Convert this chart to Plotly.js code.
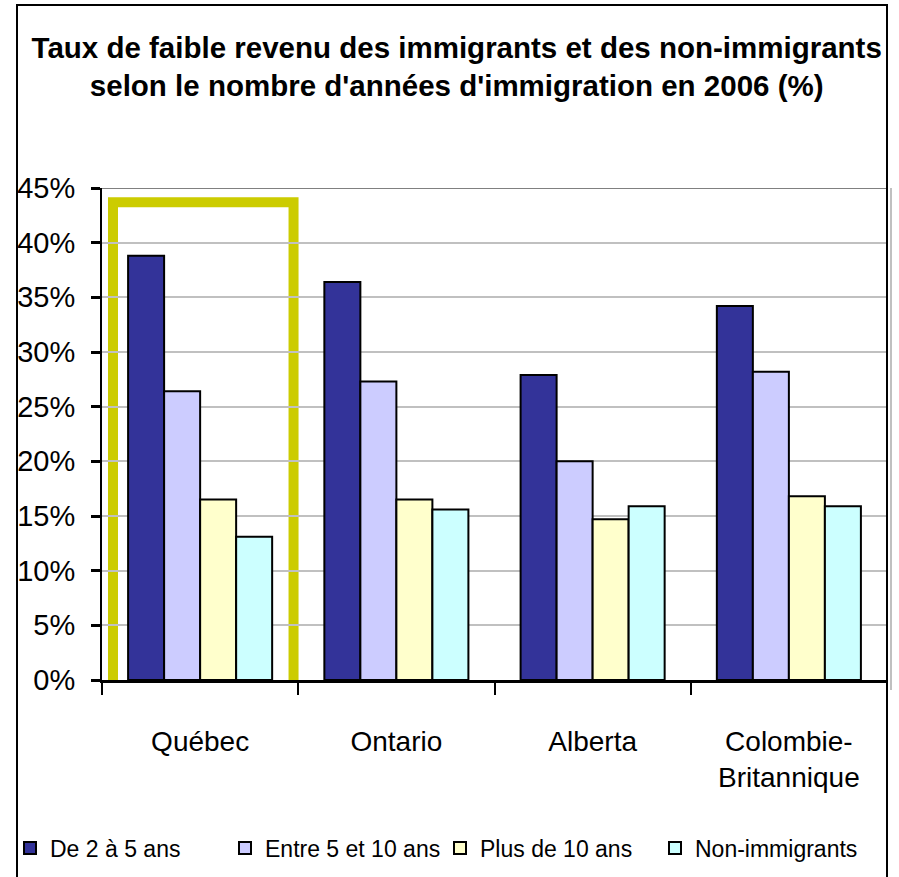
<!DOCTYPE html>
<html>
<head>
<meta charset="utf-8">
<script src="https://cdn.plot.ly/plotly-3.0.1.min.js"></script>
<style>
  html, body { margin: 0; padding: 0; background: #ffffff; }
  #chart { width: 899px; height: 877px; }
</style>
</head>
<body>
<div id="chart"></div>
<script>
// Data (percent)
const categories = ['Québec', 'Ontario', 'Alberta', 'Colombie-Britannique'];
const categoryLabels = ['Québec', 'Ontario', 'Alberta', 'Colombie-<br>Britannique'];
const seriesNames = ['De 2 à 5 ans', 'Entre 5 et 10 ans', 'Plus de 10 ans', 'Non-immigrants'];
const de2a5 = [38.8, 36.4, 27.9, 34.2];
const entre5et10 = [26.4, 27.3, 20.0, 28.2];
const plusDe10 = [16.5, 16.5, 14.7, 16.8];
const nonImmigrants = [13.1, 15.6, 15.9, 15.9];
const yTicks = [0, 5, 10, 15, 20, 25, 30, 35, 40, 45];
const yTickLabels = ['0%', '5%', '10%', '15%', '20%', '25%', '30%', '35%', '40%', '45%'];

const colors = ['#333399', '#CCCCFF', '#FFFFCC', '#CCFFFF'];
const values = [de2a5, entre5et10, plusDe10, nonImmigrants];

const FONT = '"Liberation Sans", Arial, sans-serif';

const traces = values.map((v, i) => ({
  type: 'bar',
  name: seriesNames[i],
  x: categories,
  y: v,
  marker: { color: colors[i], line: { color: '#000000', width: 2 } },
  hoverinfo: 'x+y+name'
}));

// pixel helpers for paper coordinates (plot area: x 102..887, y 188..680)
const L = 102, R = 887, T = 188, B = 680;
const px = x => (x - L) / (R - L);
const py = y => (B - y) / (B - T);

const layout = {
  width: 899,
  height: 877,
  paper_bgcolor: '#ffffff',
  plot_bgcolor: '#ffffff',
  margin: { l: L, r: 899 - R, t: T, b: 877 - B, pad: 0, autoexpand: false },
  font: { family: FONT, color: '#000000', size: 28 },
  title: {
    text: "Taux de faible revenu des immigrants et des non-immigrants<br>selon le nombre d'années d'immigration en 2006 (%)",
    font: { family: FONT, size: 29.5, color: '#000000', weight: 'bold' },
    x: 0.508, xanchor: 'center', xref: 'container',
    y: 1 - 58 / 877, yanchor: 'top', yref: 'container'
  },
  barmode: 'group',
  bargap: 0.266,
  bargroupgap: 0,
  xaxis: {
    type: 'category',
    tickvals: categories,
    ticktext: categoryLabels,
    tickson: 'boundaries',
    ticks: 'outside', ticklen: 12, tickwidth: 2, tickcolor: '#000000',
    ticklabelstandoff: 34,
    showline: true, linecolor: '#000000', linewidth: 3,
    showgrid: false,
    tickfont: { family: FONT, size: 28, color: '#000000' },
    fixedrange: true
  },
  yaxis: {
    range: [0, 45],
    tickmode: 'array',
    tickvals: yTicks,
    ticktext: yTickLabels,
    ticks: 'outside', ticklen: 9, tickwidth: 3, tickcolor: '#000000',
    ticklabelstandoff: 10,
    showline: true, linecolor: '#000000', linewidth: 2,
    showgrid: true, gridcolor: '#c0c0c0', gridwidth: 2,
    zeroline: false,
    tickfont: { family: FONT, size: 29, color: '#000000' },
    fixedrange: true
  },
  legend: {
    orientation: 'h',
    x: px(10), xanchor: 'left',
    y: py(848), yanchor: 'middle',
    font: { family: FONT, size: 23, color: '#000000' },
    bgcolor: 'rgba(0,0,0,0)',
    itemwidth: 30,
    entrywidth: 170,
    traceorder: 'normal'
  },
  showlegend: true,
  shapes: [
    // plot-area top border (darker gray)
    { type: 'line', xref: 'paper', yref: 'y', x0: 0, x1: 1, y0: 45, y1: 45,
      line: { color: '#808080', width: 2 }, layer: 'below' },
    // plot-area right edge (gray)
    { type: 'line', xref: 'paper', yref: 'paper', x0: px(891), x1: px(891), y0: py(690), y1: 1,
      line: { color: '#c0c0c0', width: 2 }, layer: 'below' },
    // highlight rectangle around Québec
    { type: 'rect', xref: 'x', yref: 'y', x0: -0.444, x1: 0.476, y0: -0.5, y1: 43.7,
      line: { color: '#CCCC00', width: 10 }, fillcolor: 'rgba(0,0,0,0)', layer: 'below' },
    // outer chart border
    { type: 'rect', xref: 'paper', yref: 'paper', x0: px(17), x1: px(887), y0: py(882), y1: py(5),
      line: { color: '#000000', width: 2 }, fillcolor: 'rgba(0,0,0,0)', layer: 'above' }
  ]
};

Plotly.newPlot('chart', traces, layout, { displayModeBar: false, staticPlot: true });
</script>
</body>
</html>
